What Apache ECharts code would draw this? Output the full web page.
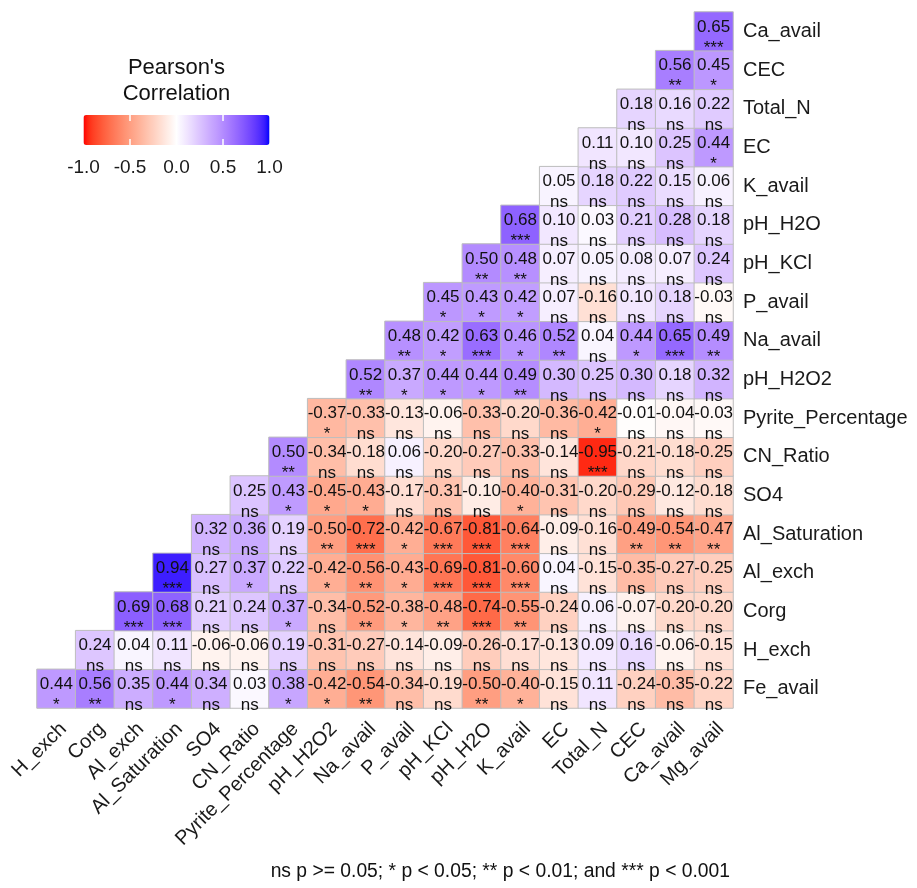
<!DOCTYPE html>
<html>
<head>
<meta charset="utf-8">
<script src="https://cdn.jsdelivr.net/npm/echarts@6/dist/echarts.min.js"></script>
<style>
  html, body { margin: 0; padding: 0; background: #fff; }
  #chart { width: 917px; height: 888px; }
</style>
</head>
<body>
<div id="chart"></div>
<script>
// columns, left to right
const xLabels = ['H_exch', 'Corg', 'Al_exch', 'Al_Saturation', 'SO4', 'CN_Ratio', 'Pyrite_Percentage',
  'pH_H2O2', 'Na_avail', 'P_avail', 'pH_KCl', 'pH_H2O', 'K_avail', 'EC', 'Total_N', 'CEC', 'Ca_avail', 'Mg_avail'];
// rows, bottom to top
const yLabels = ['Fe_avail', 'H_exch', 'Corg', 'Al_exch', 'Al_Saturation', 'SO4', 'CN_Ratio', 'Pyrite_Percentage',
  'pH_H2O2', 'Na_avail', 'P_avail', 'pH_KCl', 'pH_H2O', 'K_avail', 'EC', 'Total_N', 'CEC', 'Ca_avail'];

// row i (from bottom) starts at column i
const corrRows = [
  [0.44, 0.56, 0.35, 0.44, 0.34, 0.03, 0.38, -0.42, -0.54, -0.34, -0.19, -0.50, -0.40, -0.15, 0.11, -0.24, -0.35, -0.22],
  [0.24, 0.04, 0.11, -0.06, -0.06, 0.19, -0.31, -0.27, -0.14, -0.09, -0.26, -0.17, -0.13, 0.09, 0.16, -0.06, -0.15],
  [0.69, 0.68, 0.21, 0.24, 0.37, -0.34, -0.52, -0.38, -0.48, -0.74, -0.55, -0.24, 0.06, -0.07, -0.20, -0.20],
  [0.94, 0.27, 0.37, 0.22, -0.42, -0.56, -0.43, -0.69, -0.81, -0.60, 0.04, -0.15, -0.35, -0.27, -0.25],
  [0.32, 0.36, 0.19, -0.50, -0.72, -0.42, -0.67, -0.81, -0.64, -0.09, -0.16, -0.49, -0.54, -0.47],
  [0.25, 0.43, -0.45, -0.43, -0.17, -0.31, -0.10, -0.40, -0.31, -0.20, -0.29, -0.12, -0.18],
  [0.50, -0.34, -0.18, 0.06, -0.20, -0.27, -0.33, -0.14, -0.95, -0.21, -0.18, -0.25],
  [-0.37, -0.33, -0.13, -0.06, -0.33, -0.20, -0.36, -0.42, -0.01, -0.04, -0.03],
  [0.52, 0.37, 0.44, 0.44, 0.49, 0.30, 0.25, 0.30, 0.18, 0.32],
  [0.48, 0.42, 0.63, 0.46, 0.52, 0.04, 0.44, 0.65, 0.49],
  [0.45, 0.43, 0.42, 0.07, -0.16, 0.10, 0.18, -0.03],
  [0.50, 0.48, 0.07, 0.05, 0.08, 0.07, 0.24],
  [0.68, 0.10, 0.03, 0.21, 0.28, 0.18],
  [0.05, 0.18, 0.22, 0.15, 0.06],
  [0.11, 0.10, 0.25, 0.44],
  [0.18, 0.16, 0.22],
  [0.56, 0.45],
  [0.65]
];

const sigRows = [
  ['*', '**', 'ns', '*', 'ns', 'ns', '*', '*', '**', 'ns', 'ns', '**', '*', 'ns', 'ns', 'ns', 'ns', 'ns'],
  ['ns', 'ns', 'ns', 'ns', 'ns', 'ns', 'ns', 'ns', 'ns', 'ns', 'ns', 'ns', 'ns', 'ns', 'ns', 'ns', 'ns'],
  ['***', '***', 'ns', 'ns', '*', 'ns', '**', '*', '**', '***', '**', 'ns', 'ns', 'ns', 'ns', 'ns'],
  ['***', 'ns', '*', 'ns', '*', '**', '*', '***', '***', '***', 'ns', 'ns', 'ns', 'ns', 'ns'],
  ['ns', 'ns', 'ns', '**', '***', '*', '***', '***', '***', 'ns', 'ns', '**', '**', '**'],
  ['ns', '*', '*', '*', 'ns', 'ns', 'ns', '*', 'ns', 'ns', 'ns', 'ns', 'ns'],
  ['**', 'ns', 'ns', 'ns', 'ns', 'ns', 'ns', 'ns', '***', 'ns', 'ns', 'ns'],
  ['*', 'ns', 'ns', 'ns', 'ns', 'ns', 'ns', '*', 'ns', 'ns', 'ns'],
  ['**', '*', '*', '*', '**', 'ns', 'ns', 'ns', 'ns', 'ns'],
  ['**', '*', '***', '*', '**', 'ns', '*', '***', '**'],
  ['*', '*', '*', 'ns', 'ns', 'ns', 'ns', 'ns'],
  ['**', '**', 'ns', 'ns', 'ns', 'ns', 'ns'],
  ['***', 'ns', 'ns', 'ns', 'ns', 'ns'],
  ['ns', 'ns', 'ns', 'ns', 'ns'],
  ['ns', 'ns', 'ns', '*'],
  ['ns', 'ns', 'ns'],
  ['**', '*'],
  ['***']
];

const legendTicks = [-1.0, -0.5, 0.0, 0.5, 1.0];
const noteText = 'ns p >= 0.05; * p < 0.05; ** p < 0.01; and *** p < 0.001';

// ggplot style gradient2 (red - white - blue), interpolated in Lab
function toLin(c) { c /= 255; return c <= 0.04045 ? c / 12.92 : Math.pow((c + 0.055) / 1.055, 2.4); }
function fromLin(c) {
  c = c <= 0.0031308 ? 12.92 * c : 1.055 * Math.pow(c, 1 / 2.4) - 0.055;
  return Math.round(Math.max(0, Math.min(1, c)) * 255);
}
function rgbToLab(rgb) {
  const R = toLin(rgb[0]), G = toLin(rgb[1]), B = toLin(rgb[2]);
  const X = (0.4124 * R + 0.3576 * G + 0.1805 * B) / 0.95047;
  const Y = 0.2126 * R + 0.7152 * G + 0.0722 * B;
  const Z = (0.0193 * R + 0.1192 * G + 0.9505 * B) / 1.08883;
  const f = t => t > 0.008856 ? Math.cbrt(t) : 7.787 * t + 16 / 116;
  return [116 * f(Y) - 16, 500 * (f(X) - f(Y)), 200 * (f(Y) - f(Z))];
}
function labToHex(lab) {
  const fy = (lab[0] + 16) / 116, fx = fy + lab[1] / 500, fz = fy - lab[2] / 200;
  const inv = t => t * t * t > 0.008856 ? t * t * t : (t - 16 / 116) / 7.787;
  const X = inv(fx) * 0.95047, Y = inv(fy), Z = inv(fz) * 1.08883;
  const r = fromLin(3.2406 * X - 1.5372 * Y - 0.4986 * Z);
  const g = fromLin(-0.9689 * X + 1.8758 * Y + 0.0415 * Z);
  const b = fromLin(0.0557 * X - 0.2040 * Y + 1.0570 * Z);
  return '#' + [r, g, b].map(v => v.toString(16).padStart(2, '0')).join('');
}
const labRed = rgbToLab([255, 0, 0]), labWhite = rgbToLab([255, 255, 255]), labBlue = rgbToLab([0, 0, 255]);
const palette = [];
for (let i = 0; i <= 40; i++) {
  const v = -1 + i * 0.05;
  const end = v < 0 ? labRed : labBlue, t = Math.abs(v);
  palette.push(labToHex([0, 1, 2].map(k => labWhite[k] + (end[k] - labWhite[k]) * t)));
}

const cells = [];
corrRows.forEach((row, y) => {
  row.forEach((v, k) => cells.push([y + k, y, v]));
});

const GL = 37, GT = 12, GW = 696, GH = 696;
const barL = 83.5, barW = 186;

const chart = echarts.init(document.getElementById('chart'));
const font = '"Liberation Sans", Arial, sans-serif';

chart.setOption({
  animation: false,
  textStyle: { fontFamily: font },
  grid: { left: GL, top: GT, width: GW, height: GH },
  xAxis: {
    type: 'category',
    data: xLabels,
    position: 'bottom',
    axisLine: { show: false },
    axisTick: { show: false },
    splitLine: { show: false },
    axisLabel: {
      interval: 0, rotate: 45, margin: 25, padding: [0, -10, 0, 0],
      fontSize: 20, color: '#1a1a1a', fontFamily: font
    }
  },
  yAxis: {
    type: 'category',
    data: yLabels,
    position: 'right',
    axisLine: { show: false },
    axisTick: { show: false },
    splitLine: { show: false },
    axisLabel: { interval: 0, margin: 10, fontSize: 20, color: '#1a1a1a', fontFamily: font }
  },
  visualMap: {
    type: 'continuous',
    min: -1,
    max: 1,
    dimension: 2,
    orient: 'horizontal',
    left: barL,
    top: 115,
    padding: 0,
    itemWidth: 30,
    itemHeight: barW,
    calculable: false,
    hoverLink: false,
    text: null,
    showLabel: false,
    inRange: { color: palette }
  },
  graphic: [
    {
      type: 'text', x: barL + barW / 2, y: 68,
      style: { text: "Pearson's", fill: '#111', align: 'center', verticalAlign: 'middle', font: '22px ' + font }
    },
    {
      type: 'text', x: barL + barW / 2, y: 94,
      style: { text: 'Correlation', fill: '#111', align: 'center', verticalAlign: 'middle', font: '22px ' + font }
    },
    ...legendTicks.map(t => ({
      type: 'text', x: barL + (t + 1) / 2 * barW, y: 168,
      style: { text: t.toFixed(1), fill: '#1a1a1a', align: 'center', verticalAlign: 'middle', font: '19px ' + font }
    })),
    ...[-0.5, 0.5].map(t => ({
      type: 'group', children: [
        { type: 'line', shape: { x1: barL + (t + 1) / 2 * barW, y1: 115, x2: barL + (t + 1) / 2 * barW, y2: 121 }, style: { stroke: '#fff', lineWidth: 1.5 }, z: 100 },
        { type: 'line', shape: { x1: barL + (t + 1) / 2 * barW, y1: 139, x2: barL + (t + 1) / 2 * barW, y2: 145 }, style: { stroke: '#fff', lineWidth: 1.5 }, z: 100 }
      ]
    })),
    {
      type: 'text', x: 730, y: 872,
      style: { text: noteText, fill: '#111', align: 'right', verticalAlign: 'middle', font: '19.3px ' + font }
    }
  ],
  series: [{
    type: 'heatmap',
    data: cells,
    itemStyle: { borderColor: '#bdbdbd', borderWidth: 1 },
    emphasis: { disabled: true },
    label: {
      show: true,
      offset: [0, 6],
      formatter: p => {
        const x = p.value[0], y = p.value[1];
        return '{v|' + p.value[2].toFixed(2) + '}\n{s|' + sigRows[y][x - y] + '}';
      },
      rich: {
        v: { fontSize: 17, lineHeight: 21, color: '#111', fontFamily: font },
        s: { fontSize: 17, lineHeight: 21, color: '#111', fontFamily: font }
      }
    }
  }]
});
</script>
</body>
</html>
